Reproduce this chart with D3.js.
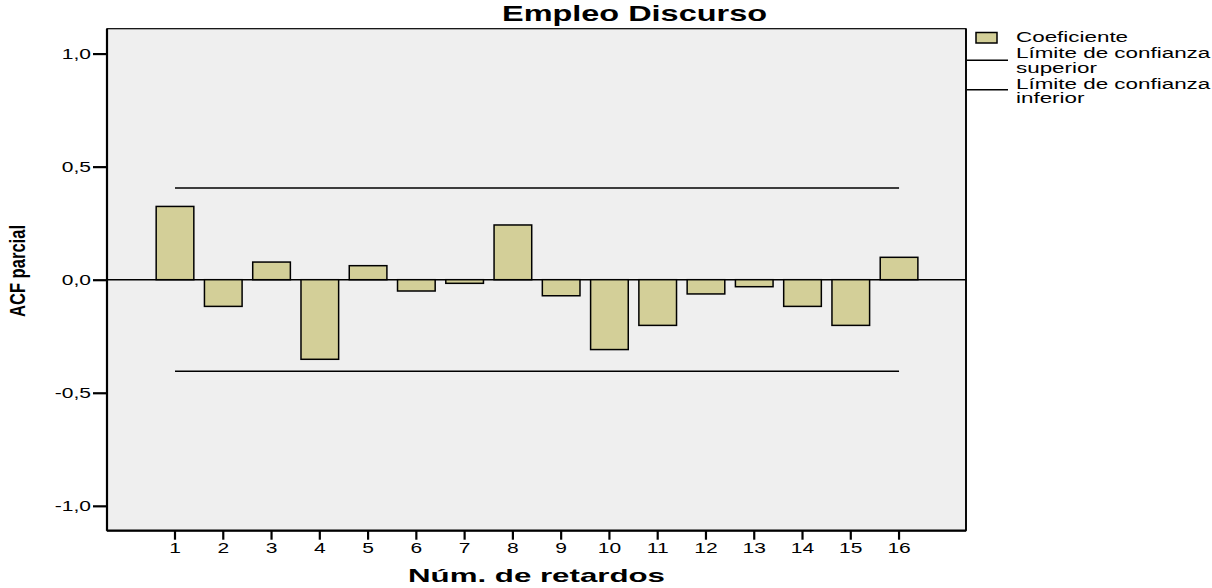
<!DOCTYPE html>
<html>
<head>
<meta charset="utf-8">
<script src="https://cdnjs.cloudflare.com/ajax/libs/d3/7.8.5/d3.min.js"></script>
<style>
  body { margin: 0; background: #fff; }
  svg { display: block; font-family: "Liberation Sans", Arial, sans-serif; }
</style>
</head>
<body>
<svg width="1212" height="588"></svg>
<script>
// Data
const lags = [1, 2, 3, 4, 5, 6, 7, 8, 9, 10, 11, 12, 13, 14, 15, 16];
const pacf = [0.324, -0.118, 0.078, -0.352, 0.062, -0.050, -0.016, 0.242,
              -0.071, -0.309, -0.202, -0.063, -0.031, -0.118, -0.202, 0.099];
const upperLimit = 0.405,
      lowerLimit = -0.405;
const yTicks = [-1, -0.5, 0, 0.5, 1];
const legendLabels = [["Coeficiente"],
                      ["Límite de confianza", "superior"],
                      ["Límite de confianza", "inferior"]];

const barFill = "#d3cf98";

// Plot area
var margin = {top: 28.7, left: 107},
    width = 859,
    height = 502;

var svg = d3.select("svg");

// stretch text horizontally like the original export
function stretch(sel, f) {
  sel.each(function() {
    var w = this.getComputedTextLength();
    d3.select(this).attr("textLength", w * f).attr("lengthAdjust", "spacingAndGlyphs");
  });
}

var step = 48.27;
var x = d3.scaleBand()
    .domain(lags)
    .range([175 - margin.left - step / 2, 175 - margin.left - step / 2 + step * lags.length])
    .paddingInner(0.22)
    .paddingOuter(0.11);

var y = d3.scaleLinear().domain([-1.11, 1.11]).range([height, 0]);

var comma = d3.formatLocale({decimal: ",", thousands: ".", grouping: [3], currency: ["", ""], minus: "-"}).format(".1f");

var g = svg.append("g")
    .attr("transform", "translate(" + margin.left + "," + margin.top + ")");

// background
g.append("rect")
    .attr("width", width)
    .attr("height", height)
    .attr("fill", "#efefef")
    .attr("stroke", "#000")
    .attr("stroke-width", 1.2);

// zero line
g.append("line")
    .attr("x1", 0).attr("x2", width)
    .attr("y1", y(0)).attr("y2", y(0))
    .attr("stroke", "#000").attr("stroke-width", 1.6);

// bars
g.selectAll(".bar")
    .data(lags)
  .enter().append("rect")
    .attr("class", "bar")
    .attr("x", function(d) { return x(d); })
    .attr("width", x.bandwidth())
    .attr("y", function(d, i) { return y(Math.max(0, pacf[i])); })
    .attr("height", function(d, i) { return Math.abs(y(pacf[i]) - y(0)); })
    .attr("fill", barFill)
    .attr("stroke", "#000")
    .attr("stroke-width", 1.5);

// confidence limits
var cx = function(d) { return x(d) + x.bandwidth() / 2; };
[upperLimit, lowerLimit].forEach(function(v) {
  g.append("line")
      .attr("x1", cx(lags[0])).attr("x2", cx(lags[lags.length - 1]))
      .attr("y1", y(v)).attr("y2", y(v))
      .attr("stroke", "#000").attr("stroke-width", 1.5);
});

// axes
var yAxis = g.append("g")
    .call(d3.axisLeft(y).tickValues(yTicks).tickFormat(comma).tickSize(14).tickPadding(2).tickSizeOuter(0));
var xAxis = g.append("g")
    .attr("transform", "translate(0," + height + ")")
    .call(d3.axisBottom(x).tickSize(9).tickPadding(3).tickSizeOuter(0));

[yAxis, xAxis].forEach(function(a) {
  a.select(".domain").remove();
  a.selectAll("line").attr("stroke", "#000").attr("stroke-width", 2.2);
  a.selectAll("text").attr("font-size", 14).attr("fill", "#000").call(stretch, 1.5);
});

// thick axis lines
g.append("line").attr("x1", 0).attr("x2", 0).attr("y1", 0).attr("y2", height)
    .attr("stroke", "#000").attr("stroke-width", 2.2);
g.append("line").attr("x1", 0).attr("x2", width).attr("y1", height).attr("y2", height)
    .attr("stroke", "#000").attr("stroke-width", 2.2);
g.append("line").attr("x1", width).attr("x2", width).attr("y1", 0).attr("y2", height)
    .attr("stroke", "#000").attr("stroke-width", 1.8);

// title
svg.append("text")
    .attr("x", 634.5)
    .attr("y", 20.5)
    .attr("text-anchor", "middle")
    .attr("font-size", 22)
    .attr("font-weight", "bold")
    .attr("textLength", 265)
    .attr("lengthAdjust", "spacingAndGlyphs")
    .text("Empleo Discurso");

// x axis label
svg.append("text")
    .attr("x", margin.left + width / 2)
    .attr("y", 582)
    .attr("text-anchor", "middle")
    .attr("font-size", 19)
    .attr("font-weight", "bold")
    .attr("textLength", 257)
    .attr("lengthAdjust", "spacingAndGlyphs")
    .text("Núm. de retardos");

// y axis label
svg.append("text")
    .attr("transform", "rotate(-90)")
    .attr("x", -271)
    .attr("y", 25)
    .attr("text-anchor", "middle")
    .attr("font-size", 22)
    .attr("font-weight", "bold")
    .attr("textLength", 92)
    .attr("lengthAdjust", "spacingAndGlyphs")
    .text("ACF parcial");

// legend
var legend = svg.append("g").attr("font-size", 14);
legend.append("rect")
    .attr("x", 976).attr("y", 32.5)
    .attr("width", 21).attr("height", 10.5)
    .attr("fill", barFill).attr("stroke", "#000").attr("stroke-width", 1.5);
[60.3, 89.7].forEach(function(ly) {
  legend.append("line")
      .attr("x1", 967).attr("x2", 1008)
      .attr("y1", ly).attr("y2", ly)
      .attr("stroke", "#000").attr("stroke-width", 1.5);
});
var baselines = [[42], [58, 73], [89, 103]];
legendLabels.forEach(function(lines, i) {
  lines.forEach(function(t, j) {
    legend.append("text")
        .attr("x", 1016)
        .attr("y", baselines[i][j])
        .text(t)
        .call(stretch, 1.6);
  });
});
</script>
</body>
</html>
